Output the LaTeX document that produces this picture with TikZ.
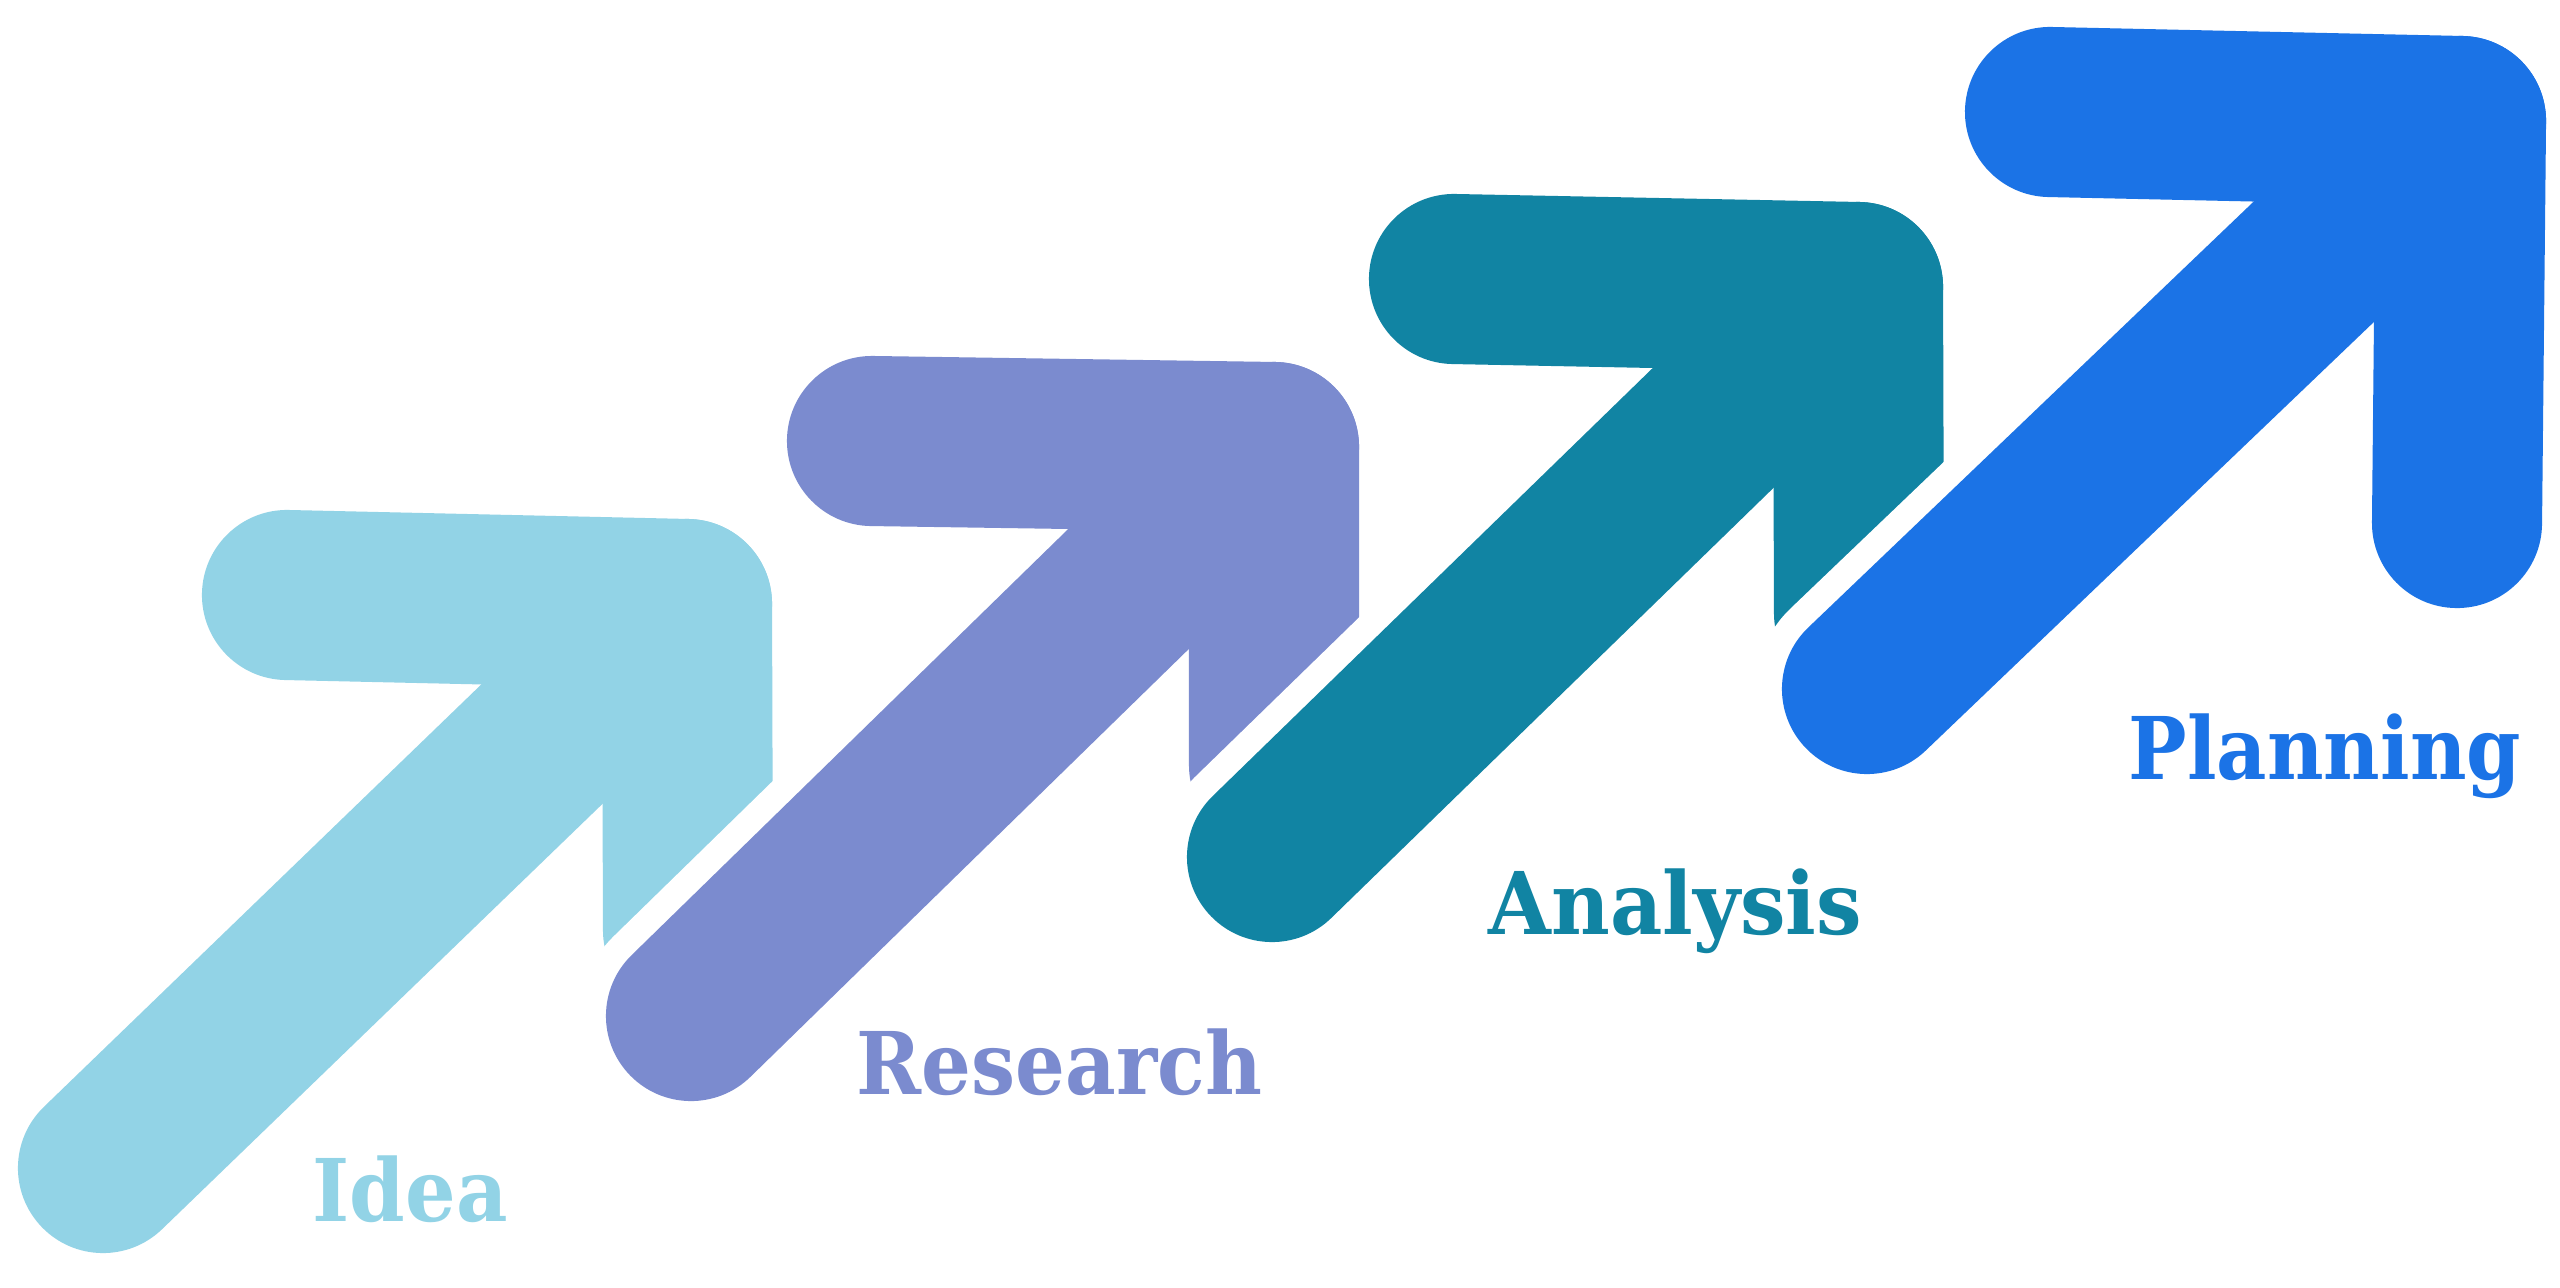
\documentclass[tikz,border=0pt]{standalone}
\usepackage{fontspec}
\setmainfont{DejaVu Serif}
\definecolor{cIdea}{HTML}{92D3E6}
\definecolor{cRes}{HTML}{7B8BCF}
\definecolor{cAna}{HTML}{1184A3}
\definecolor{cPlan}{HTML}{1B73E6}
\begin{document}
\begin{tikzpicture}[x=0.01cm,y=-0.01cm,
  bar/.style={line width=1.70cm, line cap=round, line join=round},
  halo/.style={line width=2.22cm, draw=white, line cap=round, line join=round},
  lbl/.style={font=\bfseries\fontsize{24.6}{28}\selectfont, anchor=base west, inner sep=0pt}]
\useasboundingbox (0,0) rectangle (2560,1287);
\fill[white] (0,0) rectangle (2560,1287);
% Idea
\coordinate (iS) at (103,1168);
\coordinate (iC) at (687,604);
\coordinate (iL) at (287,595);
\coordinate (iE) at (688,930);
% Research
\coordinate (rS) at (691,1016);
\coordinate (rC) at (1274,447);
\coordinate (rL) at (872,441);
\coordinate (rE) at (1274,765);
% Analysis
\coordinate (aS) at (1272,857);
\coordinate (aC) at (1858,287);
\coordinate (aL) at (1454,279);
\coordinate (aE) at (1859,613);
% Planning
\coordinate (pS) at (1867,689);
\coordinate (pC) at (2461,121);
\coordinate (pL) at (2050,112);
\coordinate (pE) at (2457,523);

\draw[bar, cIdea] (iL) -- (iC) -- (iE);
\draw[bar, cIdea] (iS) -- (iC);

\draw[halo] (rL) -- (rC) -- (rE);
\draw[halo] (rS) -- (rC);
\draw[bar, cRes] (rL) -- (rC) -- (rE);
\draw[bar, cRes] (rS) -- (rC);

\draw[halo] (aL) -- (aC) -- (aE);
\draw[halo] (aS) -- (aC);
\draw[bar, cAna] (aL) -- (aC) -- (aE);
\draw[bar, cAna] (aS) -- (aC);

\draw[halo] (pL) -- (pC) -- (pE);
\draw[halo] (pS) -- (pC);
\draw[bar, cPlan] (pL) -- (pC) -- (pE);
\draw[bar, cPlan] (pS) -- (pC);

\node[lbl, text=cIdea, xscale=0.92] (tIdea) at (312,1221) {Idea};
\node[lbl, text=cRes, xscale=0.905] (tRes) at (856,1094) {Research};
\node[lbl, text=cAna, xscale=0.935] (tAna) at (1488,934) {Analysis};
\node[lbl, text=cPlan, xscale=0.9] (tPlan) at (2128,779) {Planning};
\end{tikzpicture}
\end{document}
